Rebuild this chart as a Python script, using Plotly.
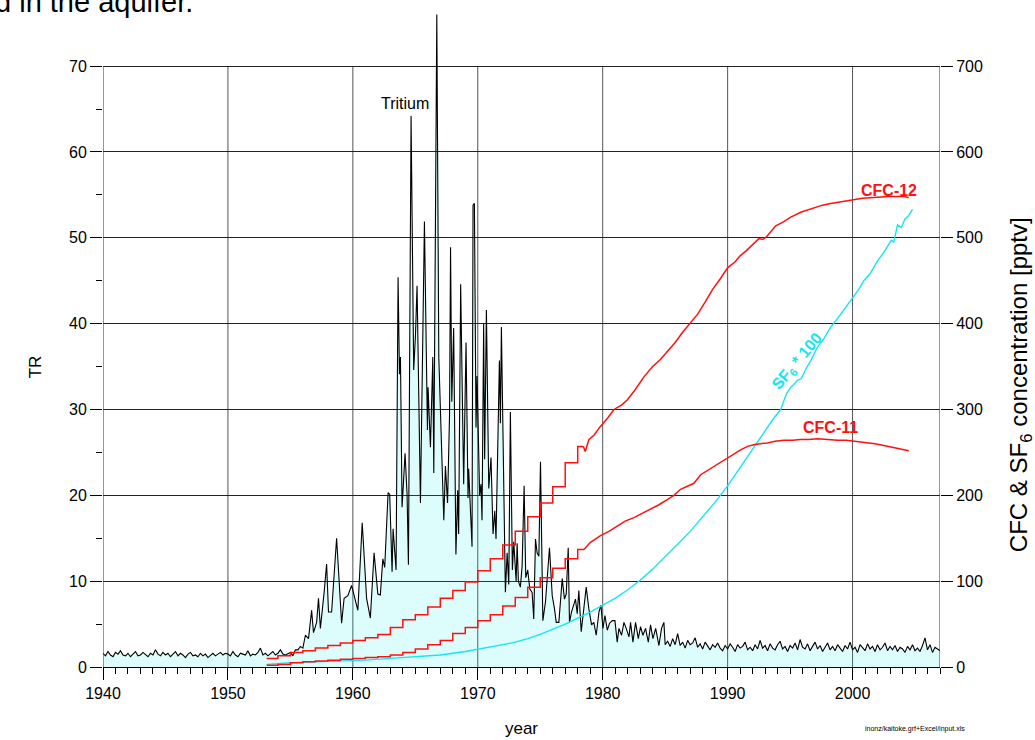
import plotly.graph_objects as go

# ---------------- data ----------------
# Tritium (TR), baseline 1940.0-1955.4 sampled every 0.2 yr
tr_early_start = 1940.0
tr_early_vals = [1.6, 1.3, 1.8, 1.4, 1.2, 1.7, 1.5, 1.9, 1.4, 1.3,
                 1.6, 1.2, 1.5, 1.8, 1.3, 1.4, 1.7, 1.5, 1.2, 1.6,
                 1.4, 2.0, 1.5, 1.3, 1.7, 1.4, 1.6, 1.2, 1.5, 1.8,
                 1.3, 1.6, 1.4, 1.1, 1.5, 1.7, 1.3, 1.4, 1.2, 1.6,
                 1.3, 1.5, 1.1, 1.4, 1.6, 1.3, 1.5, 1.7, 1.4, 1.6,
                 1.5, 1.3, 1.8, 1.4, 1.2, 1.6, 1.5, 1.4, 1.9, 1.3,
                 1.5, 1.4, 1.7, 2.2, 1.4, 1.6, 1.3, 1.5, 1.8, 1.4,
                 1.6, 2.0, 1.5, 1.4, 1.6, 1.7, 1.3, 2.0]

# Tritium, bomb-peak period (irregular sampling)
tr_peak_years = [1955.6, 1955.8, 1956.0, 1956.2, 1956.45, 1956.7, 1956.85, 1957.1, 1957.25, 1957.4,
                 1957.7, 1957.9, 1958.05, 1958.3, 1958.7, 1959.1, 1959.3, 1959.6, 1959.9, 1960.4,
                 1960.75, 1961.1, 1961.4, 1961.7, 1962.0, 1962.2, 1962.4, 1962.55, 1962.82, 1962.95,
                 1963.14, 1963.22, 1963.46, 1963.62, 1963.73, 1963.81, 1963.94, 1964.18, 1964.34, 1964.45,
                 1964.66, 1964.87, 1965.01, 1965.14, 1965.41, 1965.73, 1965.97, 1966.02, 1966.21, 1966.40,
                 1966.48, 1966.72, 1966.88, 1967.07, 1967.28, 1967.41, 1967.58, 1967.74, 1967.82, 1967.92,
                 1968.07, 1968.25, 1968.39, 1968.47, 1968.63, 1968.87, 1969.06, 1969.22, 1969.27, 1969.54,
                 1969.62, 1969.73, 1969.86, 1969.94, 1970.15, 1970.26, 1970.34, 1970.47, 1970.55, 1970.69,
                 1970.88, 1971.06, 1971.22, 1971.36, 1971.46, 1971.73, 1971.81, 1971.89, 1972.08, 1972.21,
                 1972.35, 1972.48, 1972.61, 1972.77, 1972.88, 1973.07, 1973.15, 1973.25, 1973.41, 1973.55,
                 1973.71, 1973.84, 1974.0, 1974.16, 1974.35, 1974.48, 1974.62, 1974.75, 1974.89, 1975.02,
                 1975.21, 1975.42, 1975.74, 1975.96, 1976.14, 1976.28, 1976.49, 1976.62, 1976.76, 1976.94,
                 1977.08, 1977.24, 1977.34, 1977.5, 1977.69, 1977.82, 1977.96, 1978.09, 1978.28, 1978.44,
                 1978.68, 1978.89, 1979.11, 1979.29, 1979.48, 1979.7, 1979.86, 1980.02, 1980.18, 1980.37,
                 1980.55, 1980.77, 1980.98, 1981.16, 1981.3, 1981.51, 1981.7, 1981.88, 1982.1, 1982.23,
                 1982.42, 1982.63, 1982.85, 1983.03, 1983.22, 1983.43, 1983.65, 1983.83, 1984.02, 1984.24,
                 1984.5, 1984.71, 1984.9, 1985.0]
tr_peak_vals = [2.0, 2.4, 2.2, 3.7, 3.3, 6.6, 4.0, 5.2, 8.0, 4.5,
                8.7, 12.0, 6.4, 6.4, 15.0, 5.1, 8.0, 8.3, 9.5, 6.6,
                16.8, 8.0, 5.7, 13.3, 8.5, 8.4, 12.6, 11.6, 20.3, 20.1,
                11.1, 16.1, 11.3, 45.4, 34.1, 36.1, 18.6, 24.9, 20.1, 11.9,
                64.2, 34.6, 38.6, 44.4, 19.1, 51.9, 27.6, 32.6, 25.6, 36.1,
                22.6, 76.0, 36.1, 26.1, 17.1, 23.4, 19.1, 29.4, 48.9, 30.9,
                39.5, 13.1, 20.6, 15.5, 44.6, 21.3, 37.8, 19.7, 23.1, 14.0,
                53.8, 54.0, 27.9, 33.9, 20.0, 21.3, 17.1, 40.0, 24.2, 41.6,
                20.8, 24.4, 15.5, 18.2, 14.9, 35.7, 28.4, 39.6, 23.3, 8.7,
                13.3, 9.6, 29.7, 11.3, 14.6, 10.0, 14.4, 10.0, 9.3, 11.8,
                21.1, 10.4, 11.3, 9.1, 8.7, 5.6, 14.9, 13.3, 12.9, 23.9,
                5.4, 7.6, 13.9, 8.3, 6.8, 5.2, 5.2, 8.3, 10.3, 7.9,
                8.5, 13.9, 5.2, 6.4, 7.2, 7.9, 6.2, 8.9, 4.1, 6.0,
                9.3, 6.8, 4.9, 5.2, 3.7, 6.4, 7.2, 4.5, 6.0, 4.3,
                5.1, 5.4, 5.4, 2.9, 4.5, 3.7, 5.2, 4.5, 3.5, 5.2,
                2.9, 5.2, 3.3, 4.7, 3.7, 4.5, 2.9, 4.9, 3.3, 4.5,
                2.5, 4.5, 5.2, 2.6]

# Tritium, 1985.2-2007.0 sampled every 0.2 yr
tr_late_start = 1985.2
tr_late_vals = [3.0, 2.4, 3.3, 2.6, 3.9, 2.5, 2.9, 2.2, 3.1, 2.6,
                2.8, 3.4, 2.3, 2.7, 2.1, 2.9, 2.4, 2.0, 2.6, 2.3,
                2.8, 2.2, 1.9, 2.5, 2.1, 2.7, 2.3, 1.8, 2.6, 2.2,
                2.4, 2.9, 2.0, 2.3, 1.9, 2.6, 2.1, 3.1, 2.2, 2.5,
                1.9, 2.7, 2.2, 2.0, 2.6, 3.0, 2.1, 2.4, 1.8, 2.5,
                2.2, 2.8, 2.0, 3.2, 2.3, 2.1, 2.7, 1.9, 2.4, 2.9,
                2.1, 2.5, 1.8, 2.3, 2.8, 2.0, 2.4, 1.9, 2.6, 2.2,
                1.8, 2.5, 2.1, 2.9, 2.0, 2.3, 1.7, 2.6, 2.2, 1.9,
                2.7, 2.1, 2.4, 1.8, 2.6, 2.0, 2.3, 2.8, 1.9, 2.4,
                2.0, 2.5, 1.8, 2.3, 2.1, 1.7, 2.4, 2.0, 2.6, 1.9,
                2.2, 1.8, 2.5, 3.4, 2.0, 2.6, 1.7, 2.3, 2.1, 1.9]

# CFC-12 [pptv]: annual steps, then smooth record
cfc12_step_years = [1953.1, 1954, 1955, 1956, 1957, 1958, 1959, 1960, 1961, 1962, 1963, 1964, 1965,
                    1966, 1967, 1968, 1969, 1970, 1971, 1972, 1973, 1974, 1975, 1976, 1977, 1978, 1978.45]
cfc12_step_vals = [10, 13, 17, 19, 22, 25, 28, 31, 34, 38, 46, 55, 61,
                   70, 80, 89, 99, 112, 126, 142, 158, 175, 191, 210, 238, 257, 257]
cfc12_years = [1978.45, 1978.6, 1978.9, 1979.3, 1979.8, 1980.4, 1980.9, 1981.5, 1981.96, 1982.6,
               1983.3, 1984.0, 1984.6, 1985.2, 1985.8, 1986.4, 1987.0, 1987.6, 1988.2, 1988.8,
               1989.4, 1990.0, 1990.6, 1991.0, 1991.5, 1991.84, 1992.2, 1992.5, 1992.8, 1993.1,
               1993.45, 1993.85, 1994.4, 1995.05, 1995.9, 1996.9, 1997.6, 1998.25, 1999.1, 2000.0,
               2000.8, 2001.7, 2002.9, 2004.1, 2004.5]
cfc12_vals = [257, 251, 265, 270, 280, 290, 300, 305, 311, 323,
              338, 350, 358, 368, 378, 390, 400, 411, 425, 440,
              452, 465, 472, 479, 485, 490, 495, 499, 498, 501,
              507, 514, 518, 524, 530, 535, 538, 540, 542, 544,
              546, 547, 548, 548, 547]

# CFC-11 [pptv]
cfc11_step_years = [1953.1, 1954, 1955, 1956, 1957, 1958, 1959, 1960, 1961, 1962, 1963, 1964, 1965,
                    1966, 1967, 1968, 1969, 1970, 1971, 1972, 1973, 1974, 1975, 1976, 1977, 1978, 1978.5]
cfc11_step_vals = [2, 3, 5, 6, 7, 8, 9, 10, 11, 12, 14, 17, 21,
                   26, 31, 39, 46, 54, 61, 71, 81, 93, 104, 115, 126, 137, 137]
cfc11_years = [1978.5, 1979.0, 1979.82, 1980.5, 1981.16, 1981.8, 1982.5, 1983.2, 1983.83, 1984.5,
               1985.17, 1985.7, 1986.23, 1986.8, 1987.3, 1987.84, 1988.5, 1989.17, 1989.97, 1990.5,
               1991.04, 1991.6, 1992.1, 1992.6, 1993.18, 1993.8, 1994.5, 1995.2, 1995.85, 1996.5,
               1997.2, 1998.0, 1998.8, 1999.5, 2000.2, 2001.0, 2001.8, 2002.5, 2003.2, 2003.9, 2004.5]
cfc11_vals = [137, 145, 153, 158, 164, 170, 174, 179, 184, 189,
              195, 200, 207, 211, 214, 224, 230, 236, 243, 248,
              253, 257, 259, 260, 261, 263, 264, 264, 265, 265,
              266, 265, 264, 264, 263, 262, 260, 258, 256, 254, 252]

# SF6 * 100 [pptv]
sf6_years = [1953.1, 1955, 1957, 1959, 1961, 1963, 1965, 1967, 1969, 1971,
             1972, 1973, 1974, 1975, 1976, 1977, 1978, 1979, 1980, 1981,
             1982, 1983, 1984, 1985, 1986, 1987, 1988, 1989, 1990, 1991,
             1992, 1992.4, 1993, 1993.6, 1994.25, 1994.7, 1995.05, 1995.3, 1995.6, 1995.9,
             1996.3, 1996.7, 1997.2, 1997.6, 1998.25, 1998.7, 1999.3, 1999.7, 2000.0, 2000.5,
             2000.9, 2001.4, 2002.0, 2002.5, 2003.1, 2003.3, 2003.6, 2003.9, 2004.2, 2004.5, 2004.8]
sf6_vals = [3, 5, 6, 7, 8, 10, 12, 14, 18, 23,
            26, 29, 33, 38, 44, 50, 57, 64, 72, 80,
            90, 101, 114, 128, 143, 158, 175, 192, 211, 232,
            253, 261, 275, 288, 300, 318, 326, 329, 334, 336,
            348, 358, 373, 380, 396, 404, 416, 424, 431, 440,
            450, 458, 473, 483, 497, 495, 515, 512, 522, 526, 533]

x_ticks = [1940, 1950, 1960, 1970, 1980, 1990, 2000]
tr_ticks = [0, 10, 20, 30, 40, 50, 60, 70]
tr_minor = [5, 15, 25, 35, 45, 55, 65]
conc_ticks = [0, 100, 200, 300, 400, 500, 600, 700]

# ---------------- build ----------------
tr_years = ([round(tr_early_start + 0.2 * i, 2) for i in range(len(tr_early_vals))]
            + tr_peak_years
            + [round(tr_late_start + 0.2 * i, 2) for i in range(len(tr_late_vals))])
tr_vals = tr_early_vals + tr_peak_vals + tr_late_vals

FONT = "Arial, Liberation Sans, sans-serif"
RED = "#ff1010"
CYAN = "#14e6ef"

fig = go.Figure()
fig.add_trace(go.Scatter(x=tr_years, y=tr_vals, mode="lines", name="Tritium",
                         line=dict(color="black", width=1.1),
                         fill="tozeroy", fillcolor="rgba(0,240,240,0.135)",
                         showlegend=False, yaxis="y"))
fig.add_trace(go.Scatter(x=sf6_years, y=sf6_vals, mode="lines", name="SF6*100",
                         line=dict(color=CYAN, width=1.4), showlegend=False, yaxis="y2"))
fig.add_trace(go.Scatter(x=cfc12_step_years, y=cfc12_step_vals, mode="lines", name="CFC-12",
                         line=dict(color=RED, width=1.5, shape="hv"), showlegend=False, yaxis="y2"))
fig.add_trace(go.Scatter(x=cfc12_years, y=cfc12_vals, mode="lines", name="CFC-12",
                         line=dict(color=RED, width=1.5), showlegend=False, yaxis="y2"))
fig.add_trace(go.Scatter(x=cfc11_step_years, y=cfc11_step_vals, mode="lines", name="CFC-11",
                         line=dict(color=RED, width=1.5, shape="hv"), showlegend=False, yaxis="y2"))
fig.add_trace(go.Scatter(x=cfc11_years, y=cfc11_vals, mode="lines", name="CFC-11",
                         line=dict(color=RED, width=1.5), showlegend=False, yaxis="y2"))

X0, X1 = 1940, 2007
YTOP = 70
shapes = []
for xv in x_ticks[1:]:
    shapes.append(dict(type="line", xref="x", yref="y", x0=xv, x1=xv, y0=0, y1=YTOP,
                       line=dict(color="#555555", width=1), layer="below"))
for xv in (X0, X1):
    shapes.append(dict(type="line", xref="x", yref="y", x0=xv, x1=xv, y0=0, y1=YTOP,
                       line=dict(color="#333333", width=1), layer="above"))

L, R, T, B = 103, 95, 6, 68
W, H = 1035, 740
PW, PH = W - L - R, H - T - B


def px(xp):
    return (xp - L) / PW


def py(yp):
    return (H - B - yp) / PH


annotations = [
    dict(text="Tritium", x=1964.2, y=65.6, xref="x", yref="y", showarrow=False,
         xanchor="center", yanchor="middle",
         font=dict(family=FONT, size=16, color="black")),
    dict(text="<b>CFC-12</b>", x=2002.9, y=555, xref="x", yref="y2", showarrow=False,
         xanchor="center", yanchor="middle",
         font=dict(family=FONT, size=16, color=RED)),
    dict(text="<b>CFC-11</b>", x=1998.25, y=279, xref="x", yref="y2", showarrow=False,
         xanchor="center", yanchor="middle",
         font=dict(family=FONT, size=16, color=RED)),
    dict(text="<b>SF<sub>6</sub> * 100</b>", x=1995.6, y=356, xref="x", yref="y2", showarrow=False,
         xanchor="center", yanchor="middle",
         textangle=-50, font=dict(family=FONT, size=16, color=CYAN)),
    dict(text="TR", x=px(35), y=py(370), xref="paper", yref="paper", showarrow=False,
         xanchor="center", yanchor="middle",
         textangle=-90, font=dict(family=FONT, size=17, color="black")),
    dict(text="CFC & SF<sub>6</sub> concentration [pptv]", x=px(1020), y=py(388),
         xref="paper", yref="paper", showarrow=False, textangle=-90,
         xanchor="center", yanchor="middle",
         font=dict(family=FONT, size=24, color="black")),
    dict(text="d in the aquifer.", x=px(-6.5), y=py(1.5), xref="paper", yref="paper",
         xanchor="left", yanchor="middle", showarrow=False,
         font=dict(family=FONT, size=29, color="black")),
    dict(text="inonz/kaitoke.grf+Excel/input.xls", x=px(967), y=py(734), xref="paper",
         yref="paper", xanchor="right", yanchor="middle", showarrow=False,
         font=dict(family=FONT, size=7, color="black")),
]

fig.update_layout(
    width=W, height=H,
    margin=dict(l=L, r=R, t=T, b=B, pad=0),
    paper_bgcolor="white", plot_bgcolor="white",
    font=dict(family=FONT, size=16, color="black"),
    showlegend=False,
    xaxis=dict(range=[X0, X1], tickvals=x_ticks, ticks="outside", ticklen=12, tickwidth=1,
               tickcolor="black", showgrid=False, zeroline=False,
               showline=True, linecolor="black", linewidth=1,
               tickfont=dict(family=FONT, size=16),
               minor=dict(dtick=1, tick0=1940, ticks="outside", ticklen=6, tickcolor="black",
                          showgrid=False),
               title=dict(text="year", font=dict(family=FONT, size=17), standoff=20)),
    yaxis=dict(range=[0, 77], tickvals=tr_ticks, ticks="outside", ticklen=12, tickwidth=1,
               tickcolor="black", showgrid=True, gridcolor="#222222", gridwidth=1,
               zeroline=False, showline=False, tickfont=dict(family=FONT, size=16),
               minor=dict(tickvals=tr_minor, ticks="outside", ticklen=6, tickcolor="black",
                          showgrid=False)),
    yaxis2=dict(range=[0, 770], overlaying="y", side="right", tickvals=conc_ticks,
                ticks="outside", ticklen=12, tickwidth=1, tickcolor="black",
                showgrid=False, zeroline=False, showline=False,
                tickfont=dict(family=FONT, size=16)),
    shapes=shapes,
    annotations=annotations,
)

fig.write_html("out.html", config={"displayModeBar": False},
               post_script="document.body.style.margin='0px';document.body.style.overflow='hidden';")
